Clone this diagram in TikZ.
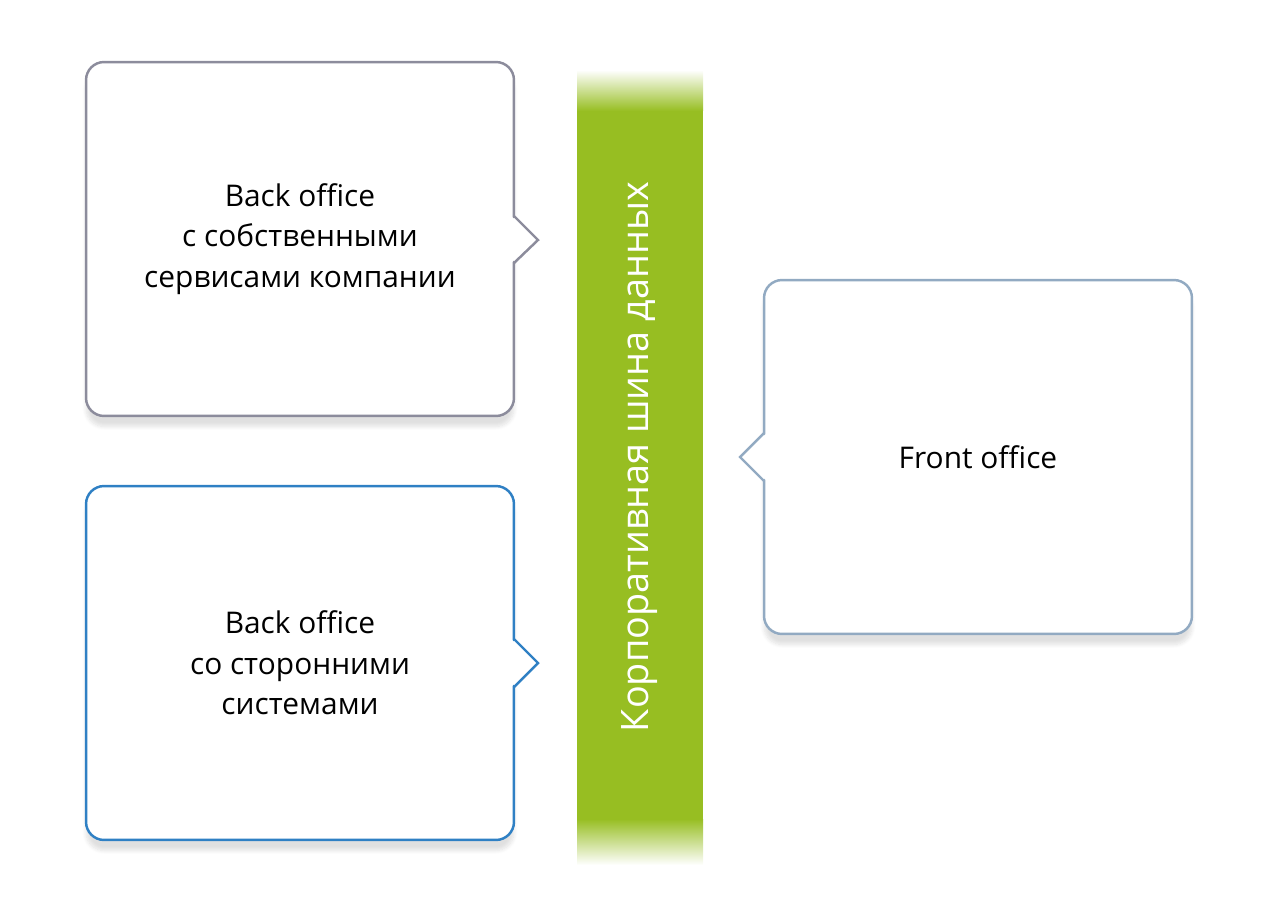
\documentclass[tikz,border=0pt]{standalone}
\usepackage{fontspec}
\setmainfont{Open Sans}
\usetikzlibrary{shadows.blur}
\definecolor{busgreen}{HTML}{97BE22}
\definecolor{ownedge}{HTML}{8C8C9C}
\definecolor{extedge}{HTML}{2F80C4}
\definecolor{frontedge}{HTML}{92AAC2}
\begin{document}
\begin{tikzpicture}[
    x=0.02cm, y=-0.02cm,
    officebox/.style={draw=#1, line width=1.4pt, rounded corners=0.36cm, fill=white,
      minimum width=8.56cm, minimum height=7.08cm, align=center,
      font=\fontsize{17}{23}\selectfont, blur shadow={shadow blur steps=8, shadow xshift=0pt, shadow yshift=-6pt, shadow opacity=12}},
    notch/.style={draw=#1, line width=1.4pt, fill=white, line join=miter}
]
\useasboundingbox (0,0) rectangle (1280,912);

% data bus
\fill[busgreen] (577,110) rectangle (703,820);
\shade[top color=white, bottom color=busgreen] (577,70) rectangle (703,111);
\shade[top color=busgreen, bottom color=white] (577,819) rectangle (703,865);
\node[rotate=90, text=white, font=\fontsize{21.5}{24}\selectfont] (bus) at (640,457) {Корпоративная шина данных};

% offices
\node[officebox=ownedge] (own) at (300,239) {Back office\\с собственными\\сервисами компании};
\node[officebox=extedge] (ext) at (300,663) {Back office\\со сторонними\\системами};
\node[officebox=frontedge] (front) at (978,457) {Front office};

% notches
\fill[white] (511,216) -- (538,240) -- (511,263) -- cycle;
\draw[notch=ownedge] (514,216) -- (538,240) -- (514,263);
\fill[white] (511,639) -- (538,663) -- (511,687) -- cycle;
\draw[notch=extedge] (514,639) -- (538,663) -- (514,687);
\fill[white] (767,433) -- (740,457) -- (767,481) -- cycle;
\draw[notch=frontedge] (764,433) -- (740,457) -- (764,481);
\end{tikzpicture}
\end{document}
